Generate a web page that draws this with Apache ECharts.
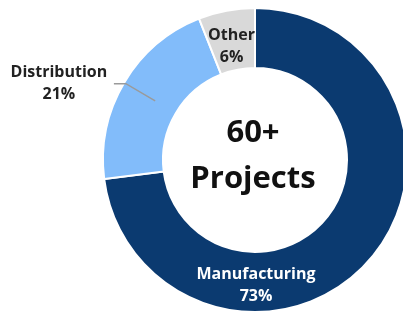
<!DOCTYPE html>
<html>
<head>
<meta charset="utf-8">
<script src="https://cdn.jsdelivr.net/npm/echarts@6/dist/echarts.min.js"></script>
<style>
  html, body { margin: 0; padding: 0; background: #fff; }
  #pie-chart { width: 403px; height: 314px; }
</style>
</head>
<body>
<div id="pie-chart"></div>
<script>
var categories = ['Manufacturing', 'Distribution', 'Other'];
var shares = [73, 21, 6];
var colors = ['#0b3a70', '#82bcfa', '#d9d9d9'];
var centerLines = ['60+', 'Projects'];

var cx = 255, cy = 160, rIn = 92, rOut = 152;
var font = '"Open Sans", sans-serif';

var myChart = echarts.init(document.getElementById('pie-chart'));

var data = categories.map(function (name, i) {
    return { name: name, value: shares[i], itemStyle: { color: colors[i] } };
});

var option = {
    animation: false,
    title: {
        text: centerLines.join('\n'),
        left: cx - 2,
        top: cy - 50,
        padding: 0,
        textAlign: 'center',
        textStyle: {
            fontFamily: font, fontWeight: 'bold', fontSize: 31,
            lineHeight: 46, color: '#111'
        }
    },
    series: [
        {
            type: 'pie',
            center: [cx, cy],
            radius: [rIn, rOut],
            startAngle: 90,
            clockwise: true,
            silent: true,
            avoidLabelOverlap: false,
            itemStyle: { borderColor: '#fff', borderWidth: 2 },
            label: {
                show: true,
                position: 'inside',
                fontFamily: font,
                fontWeight: 'bold',
                fontSize: 16,
                lineHeight: 22,
                color: '#222',
                formatter: function (p) {
                    if (p.name === 'Distribution') return '';
                    return p.name + '\n' + p.value + '%';
                }
            },
            labelLayout: function (p) {
                // the big slice carries its label at the bottom of the ring
                if (p.dataIndex === 0) {
                    return { x: cx + 1, y: cy + (rIn + rOut) / 2 + 3, align: 'center', verticalAlign: 'middle' };
                }
                if (p.dataIndex === 2) {
                    return { dy: 9 };
                }
            },
            data: data.map(function (d, i) {
                var o = Object.assign({}, d);
                if (i === 0) o.label = { color: '#fff' };
                return o;
            })
        },
        {
            // overlay only to hang the Distribution callout from mid-ring
            type: 'pie',
            center: [cx, cy],
            radius: [0, 116],
            startAngle: 90,
            clockwise: true,
            silent: true,
            avoidLabelOverlap: false,
            z: 3,
            itemStyle: { color: 'rgba(0,0,0,0)' },
            label: {
                show: true,
                position: 'outside',
                overflow: 'none',
                fontFamily: font,
                fontWeight: 'bold',
                fontSize: 16,
                lineHeight: 22,
                color: '#222',
                formatter: function (p) {
                    if (p.name !== 'Distribution') return '';
                    return '{a|' + p.name + '}\n{a|' + p.value + '%}';
                },
                rich: {
                    a: {
                        fontFamily: font, fontWeight: 'bold', fontSize: 16,
                        lineHeight: 22, width: 100, align: 'center', color: '#222'
                    }
                }
            },
            labelLine: {
                show: true,
                length: 34,
                length2: 12,
                lineStyle: { color: '#9a9a9a', width: 1.5 }
            },
            data: categories.map(function (name, i) {
                return {
                    name: name, value: shares[i],
                    labelLine: { show: name === 'Distribution' }
                };
            })
        }
    ]
};

myChart.setOption(option);
</script>
</body>
</html>
